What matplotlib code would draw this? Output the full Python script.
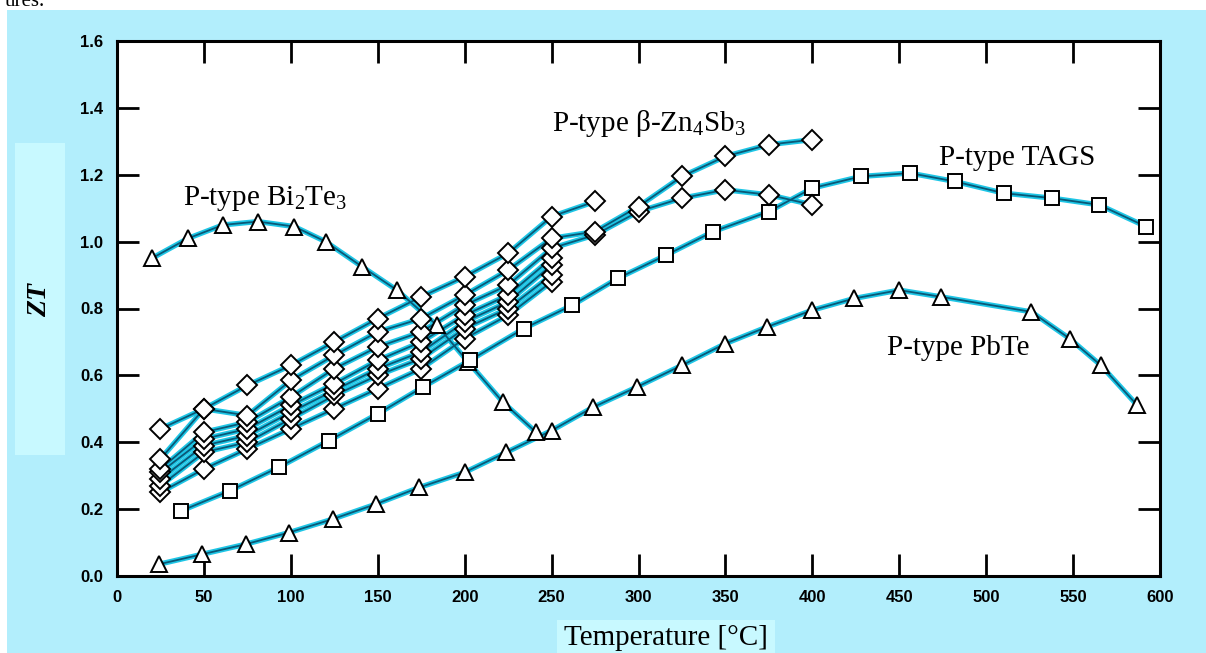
import matplotlib.pyplot as plt
from matplotlib.patches import Rectangle

plt.rcParams['mathtext.default'] = 'regular'

# P-type Bi2Te3 (triangles)
bi_t = [20, 41, 61, 81, 102, 120, 141, 161, 184, 202, 222, 241]
bi_zt = [0.95, 1.01, 1.05, 1.06, 1.045, 1.0, 0.925, 0.855, 0.75, 0.64, 0.52, 0.43]

# P-type PbTe (triangles)
pb_t = [24, 49, 74, 99, 124, 149, 174, 200, 224, 250, 274, 299, 325, 350, 374, 400,
        424, 450, 474, 526, 548, 566, 587]
pb_zt = [0.035, 0.065, 0.095, 0.13, 0.17, 0.215, 0.265, 0.31, 0.37, 0.435, 0.505,
         0.565, 0.63, 0.695, 0.745, 0.795, 0.83, 0.855, 0.835, 0.79, 0.71, 0.63, 0.51]

# P-type TAGS (squares)
tags_t = [37, 65, 93, 122, 150, 176, 203, 234, 262, 288, 316, 343, 375, 400, 428,
          456, 482, 510, 538, 565, 592]
tags_zt = [0.195, 0.255, 0.325, 0.405, 0.485, 0.565, 0.645, 0.74, 0.81, 0.89, 0.96,
           1.03, 1.09, 1.16, 1.195, 1.205, 1.18, 1.145, 1.13, 1.11, 1.045]

# P-type beta-Zn4Sb3 samples (diamonds)
zn_t_short = [25, 50, 75, 100, 125, 150, 175, 200, 225, 250]
zn_t_275 = zn_t_short + [275]
zn_t_long = zn_t_short + [275, 300, 325, 350, 375, 400]
zn1 = [0.44, 0.50, 0.57, 0.63, 0.70, 0.77, 0.835, 0.895, 0.965, 1.075, 1.12]
zn2 = [0.35, 0.50, 0.48, 0.585, 0.66, 0.73, 0.77, 0.84, 0.915, 1.01, 1.03, 1.105,
       1.195, 1.255, 1.29, 1.305]
zn3 = [0.32, 0.43, 0.46, 0.535, 0.62, 0.685, 0.73, 0.81, 0.87, 0.98, 1.02, 1.09,
       1.13, 1.155, 1.14, 1.11]
zn4 = [0.31, 0.41, 0.44, 0.51, 0.575, 0.645, 0.70, 0.78, 0.84, 0.95]
zn5 = [0.29, 0.39, 0.42, 0.49, 0.555, 0.62, 0.67, 0.76, 0.82, 0.93]
zn6 = [0.27, 0.37, 0.40, 0.47, 0.54, 0.60, 0.65, 0.74, 0.80, 0.90]
zn7 = [0.25, 0.32, 0.38, 0.44, 0.50, 0.56, 0.62, 0.71, 0.78, 0.88]

fig = plt.figure(figsize=(12.06, 6.53), dpi=100, facecolor='white')
# light blue page background
fig.patches.append(Rectangle((7 / 1206, 0), 1, 1 - 10 / 653, transform=fig.transFigure,
                             facecolor='#b2eefc', edgecolor='none', zorder=-2))
fig.patches.append(Rectangle((15 / 1206, 1 - 455 / 653), 50 / 1206, 312 / 653,
                             transform=fig.transFigure, facecolor='#c8f9ff',
                             edgecolor='none', zorder=-1))
fig.patches.append(Rectangle((557 / 1206, 0), 218 / 1206, 33 / 653,
                             transform=fig.transFigure, facecolor='#c8f9ff',
                             edgecolor='none', zorder=-1))
fig.text(0.004, 0.998, 'ures.', fontsize=15, family='Liberation Serif', va='center')

ax = fig.add_axes([117 / 1206, 1 - 576 / 653, 1043 / 1206, 535 / 653])
ax.set_zorder(5)
ax.set_facecolor('white')


def draw(t, zt, marker, ms):
    ax.plot(t, zt, color='#1ec6e6', lw=3.8, zorder=2, solid_capstyle='round')
    ax.plot(t, zt, color='#0a5876', lw=1.3, zorder=3)
    ax.plot(t, zt, ls='none', marker=marker, ms=ms, mfc='white', mec='black',
            mew=1.4, zorder=4)


draw(bi_t, bi_zt, '^', 12)
draw(pb_t, pb_zt, '^', 12)
draw(tags_t, tags_zt, 's', 10.5)
for series, temps in [(zn7, zn_t_short), (zn6, zn_t_short), (zn5, zn_t_short),
                      (zn4, zn_t_short), (zn3, zn_t_long), (zn2, zn_t_long),
                      (zn1, zn_t_275)]:
    draw(temps, series, 'D', 10)

ax.set_xlim(0, 600)
ax.set_ylim(0, 1.6)
ax.set_xticks(range(0, 601, 50))
ax.set_yticks([0.0, 0.2, 0.4, 0.6, 0.8, 1.0, 1.2, 1.4, 1.6])
ax.set_yticklabels(['0.0', '0.2', '0.4', '0.6', '0.8', '1.0', '1.2', '1.4', '1.6'])
ax.tick_params(direction='in', length=16, width=2, top=True, right=True,
               labelsize=12, pad=10)
for lab in ax.get_xticklabels() + ax.get_yticklabels():
    lab.set_fontweight('bold')
    lab.set_family(['Liberation Sans Narrow', 'Liberation Sans'])
for s in ax.spines.values():
    s.set_linewidth(2.2)

serif = 'Liberation Serif'
ax.text(38, 1.11, 'P-type Bi$_2$Te$_3$', fontsize=21, family=serif)
ax.text(250, 1.33, 'P-type β-Zn$_4$Sb$_3$', fontsize=21, family=serif)
ax.text(473, 1.23, 'P-type TAGS', fontsize=21, family=serif)
ax.text(443, 0.66, 'P-type PbTe', fontsize=21, family=serif)

fig.text(666 / 1206, 15 / 653, 'Temperature [°C]', fontsize=21, family=serif,
         ha='center', va='center')
fig.text(40 / 1206, 1 - 300 / 653, 'ZT', fontsize=20, family=serif, weight='bold',
         style='italic', rotation=90, ha='center', va='center')

fig.savefig('out.png', dpi=100, facecolor=fig.get_facecolor())
